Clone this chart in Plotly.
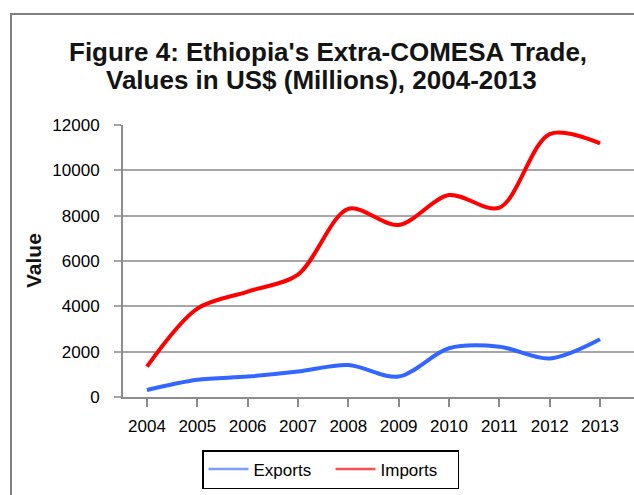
import plotly.graph_objects as go

years = ["2004", "2005", "2006", "2007", "2008", "2009", "2010", "2011", "2012", "2013"]
exports = [310, 760, 900, 1120, 1410, 900, 2150, 2220, 1700, 2550]
imports = [1340, 3900, 4650, 5400, 8300, 7590, 8910, 8350, 11600, 11190]
yticks = [0, 2000, 4000, 6000, 8000, 10000, 12000]
title_lines = ["Figure 4: Ethiopia's Extra-COMESA Trade,", "Values in US$ (Millions), 2004-2013"]

W, H = 634, 495
L, R, T, B = 123, 0, 125, 98
PW, PH = W - L - R, H - T - B

def px(x):
    return (x - L) / PW

def py(y):
    return (H - B - y) / PH

FONT = "Liberation Sans, Arial, sans-serif"
xs = list(range(len(years)))

fig = go.Figure()
fig.add_trace(go.Scatter(x=xs, y=exports, name="Exports", mode="lines", showlegend=False,
                         line=dict(color="#3366ff", width=4, shape="spline", smoothing=0.9)))
fig.add_trace(go.Scatter(x=xs, y=imports, name="Imports", mode="lines", showlegend=False,
                         line=dict(color="#ff0000", width=4, shape="spline", smoothing=0.9)))
# legend entries (thin, lighter samples like the reference)
fig.add_trace(go.Scatter(x=[None], y=[None], name="Exports", mode="lines",
                         line=dict(color="#7d9dff", width=2.5)))
fig.add_trace(go.Scatter(x=[None], y=[None], name="Imports", mode="lines",
                         line=dict(color="#ff5050", width=2.5)))

fig.update_layout(
    width=W, height=H,
    margin=dict(l=L, r=R, t=T, b=B, pad=0),
    paper_bgcolor="white", plot_bgcolor="white",
    font=dict(family=FONT, size=17, color="black"),
    showlegend=True,
    legend=dict(orientation="h", x=px(202), xanchor="left",
                y=py(450), yanchor="top",
                bordercolor="black", borderwidth=1.5, bgcolor="white",
                font=dict(size=17), entrywidth=72, entrywidthmode="pixels",
                itemwidth=40, tracegroupgap=0),
)
fig.add_annotation(text="<b>" + title_lines[0] + "</b>", xref="paper", yref="paper",
                   x=px(328), y=py(52), xanchor="center", yanchor="middle", showarrow=False,
                   font=dict(family=FONT, size=26, color="#141414"))
fig.add_annotation(text="<b>" + title_lines[1] + "</b>", xref="paper", yref="paper",
                   x=px(321), y=py(80), xanchor="center", yanchor="middle", showarrow=False,
                   font=dict(family=FONT, size=26, color="#141414"))
fig.add_annotation(text="<b>Value</b>", xref="paper", yref="paper",
                   x=px(33), y=py(261), xanchor="center", yanchor="middle", showarrow=False,
                   textangle=-90, font=dict(family=FONT, size=21, color="#141414"))

fig.update_xaxes(
    range=[-0.476, 9.675], tickmode="array", tickvals=xs, ticktext=years,
    showgrid=False, zeroline=False, showline=True, linecolor="#8c8c8c", linewidth=2,
    ticks="outside", ticklen=8, tickcolor="#8c8c8c", tickwidth=1.5,
    tickfont=dict(size=17), ticklabelstandoff=5, automargin=False, fixedrange=True,
)
fig.update_yaxes(
    range=[0, 12000], tickmode="array", tickvals=yticks, ticktext=[str(v) for v in yticks],
    showgrid=True, gridcolor="#a6a6a6", gridwidth=2, zeroline=False,
    showline=True, linecolor="#8c8c8c", linewidth=2,
    ticks="outside", ticklen=7, tickcolor="#a6a6a6", tickwidth=2,
    tickfont=dict(size=17), ticklabelstandoff=11, automargin=False, fixedrange=True,
)
# outer chart frame
fig.add_shape(type="rect", xref="paper", yref="paper",
              x0=px(11), x1=px(W + 20), y0=py(H + 20), y1=py(14),
              line=dict(color="#808080", width=2), fillcolor="rgba(0,0,0,0)", layer="below")

fig.write_html("out.html", config={"displayModeBar": False},
               post_script="document.body.style.margin='0';")
